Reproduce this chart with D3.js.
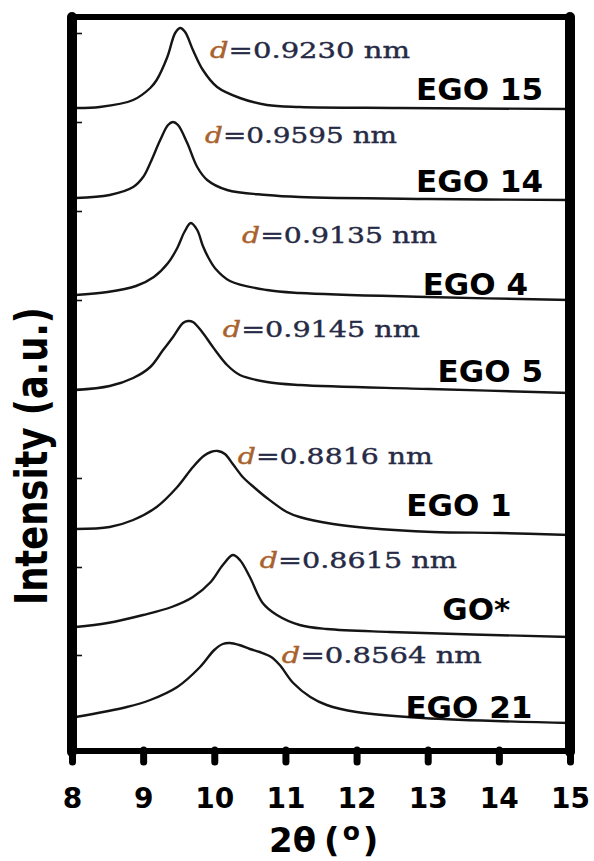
<!DOCTYPE html>
<html>
<head>
<meta charset="utf-8">
<script src="https://cdn.jsdelivr.net/npm/d3@7"></script>
<style>
  body { margin: 0; background: #fff; }
  .curve { fill: none; stroke: #151515; stroke-width: 2.4; stroke-linejoin: round; }
  .sample { font-family: 'DejaVu Sans', Verdana, sans-serif; font-weight: bold; font-size: 31px; fill: #000; }
  .spacing { font-family: 'DejaVu Serif', 'Liberation Serif', serif; font-size: 23px; stroke-width: 0.4; }
  .axis-title { font-family: 'DejaVu Sans', Verdana, sans-serif; font-weight: bold; fill: #000; }
</style>
</head>
<body>
<div class="xrd"></div>
<script>
// 2theta (deg) ticks and stacked intensity traces (a.u., already offset)
var xTicks = [8, 9, 10, 11, 12, 13, 14, 15];
var yTicks = [0.95, 1.83, 2.72, 3.61, 4.50, 5.39, 6.28, 7.17];

var samples = ['EGO 15', 'EGO 14', 'EGO 4', 'EGO 5', 'EGO 1', 'GO*', 'EGO 21'];
var dSpacings = ['0.9230', '0.9595', '0.9135', '0.9145', '0.8816', '0.8615', '0.8564'];

var ego15 = [[8.05,6.42],[8.39,6.43],[8.86,6.50],[9.10,6.62],[9.19,6.70],[9.34,6.93],[9.45,7.17],[9.52,7.22],[9.59,7.18],[9.70,7.00],[9.84,6.80],[10.04,6.63],[10.36,6.52],[10.74,6.45],[11.2,6.43],[12.6,6.42],[15,6.41]];
var ego14 = [[8.05,5.52],[8.53,5.55],[8.86,5.63],[9.0,5.73],[9.10,5.87],[9.24,6.10],[9.35,6.25],[9.42,6.28],[9.49,6.25],[9.62,6.07],[9.76,5.83],[9.90,5.70],[10.18,5.60],[10.74,5.55],[11.2,5.53],[13.0,5.51],[15,5.50]];
var ego4 = [[8.05,4.55],[8.5,4.58],[8.9,4.64],[9.15,4.73],[9.35,4.87],[9.48,5.02],[9.58,5.18],[9.67,5.27],[9.76,5.20],[9.84,5.04],[9.92,4.92],[10.02,4.81],[10.22,4.69],[10.74,4.60],[11.2,4.57],[13.0,4.53],[15,4.50]];
var ego5 = [[8.05,3.60],[8.53,3.64],[8.86,3.72],[9.10,3.83],[9.28,4.00],[9.42,4.13],[9.56,4.27],[9.63,4.29],[9.70,4.28],[9.84,4.17],[9.98,4.03],[10.18,3.85],[10.36,3.75],[10.74,3.68],[11.2,3.65],[13.03,3.61],[15,3.57]];
var ego1 = [[8.05,2.21],[8.53,2.23],[8.86,2.30],[9.19,2.43],[9.48,2.63],[9.70,2.83],[9.85,2.94],[9.95,2.98],[10.05,2.99],[10.15,2.96],[10.26,2.86],[10.40,2.73],[10.57,2.62],[10.74,2.52],[11.02,2.38],[11.2,2.33],[11.67,2.26],[12.15,2.22],[13.07,2.18],[14.02,2.17],[15,2.15]];
var go = [[8.05,1.23],[8.5,1.27],[9.0,1.35],[9.4,1.43],[9.7,1.53],[9.95,1.68],[10.12,1.85],[10.26,1.95],[10.36,1.90],[10.50,1.73],[10.68,1.47],[10.88,1.35],[11.2,1.25],[11.58,1.21],[12.47,1.18],[15,1.13]];
var ego21 = [[8.05,0.33],[8.77,0.43],[9.10,0.50],[9.48,0.63],[9.80,0.83],[10.0,1.00],[10.12,1.06],[10.22,1.07],[10.35,1.05],[10.5,1.01],[10.64,0.98],[10.8,0.93],[10.92,0.85],[11.11,0.67],[11.35,0.53],[11.58,0.45],[12.0,0.38],[12.93,0.32],[15,0.27]];

var traces = [ego15, ego14, ego4, ego5, ego1, go, ego21];

var xrd = {

  element: '.xrd',

  width: 594,
  height: 861,

  margin: { top: 17, right: 24, bottom: 111, left: 72 },

  // where the annotations sit, in data units (2theta, intensity)
  dLabelAt: [[9.94,6.92],[9.87,6.07],[10.39,5.07],[10.12,4.13],[10.33,2.86],[10.64,1.82],[10.95,0.87]],
  dLabelWidth: [200, 192, 195, 197, 195, 197, 200],
  nameAt: [[14.62,6.50],[14.62,5.58],[14.41,4.55],[14.62,3.68],[14.18,2.34],[14.16,1.30],[14.47,0.32]],

  draw: function(){
    var self = this,
        w = this.width - this.margin.left - this.margin.right,
        h = this.height - this.margin.top - this.margin.bottom;

    var x = d3.scaleLinear().domain([8, 15]).range([0, w]),
        y = d3.scaleLinear().domain([0, 7.33]).range([h, 0]);

    var svg = d3.select(this.element).append('svg')
          .attr('width', this.width)
          .attr('height', this.height)
        .append('g')
          .attr('transform', 'translate(' + this.margin.left + ',' + this.margin.top + ')');

    var line = d3.line()
        .x(function(d){ return x(d[0]); })
        .y(function(d){ return y(d[1]); })
        .curve(d3.curveCatmullRom.alpha(0.5));

    svg.selectAll('.curve')
        .data(traces)
      .enter().append('path')
        .attr('class', 'curve')
        .attr('d', line);

    // d-spacing notes
    var notes = svg.selectAll('.spacing')
        .data(dSpacings)
      .enter().append('text')
        .attr('class', 'spacing')
        .attr('x', function(d, i){ return x(self.dLabelAt[i][0]); })
        .attr('y', function(d, i){ return y(self.dLabelAt[i][1]); })
        .attr('textLength', function(d, i){ return self.dLabelWidth[i]; })
        .attr('lengthAdjust', 'spacingAndGlyphs');
    notes.append('tspan')
        .attr('font-style', 'italic')
        .attr('fill', '#a8622c')
        .attr('stroke', '#a8622c')
        .text('d');
    notes.append('tspan')
        .attr('fill', '#262a44')
        .attr('stroke', '#262a44')
        .text(function(d){ return '=' + d + ' nm'; });

    svg.selectAll('.sample')
        .data(samples)
      .enter().append('text')
        .attr('class', 'sample')
        .attr('text-anchor', 'end')
        .attr('x', function(d, i){ return x(self.nameAt[i][0]); })
        .attr('y', function(d, i){ return y(self.nameAt[i][1]); })
        .text(function(d){ return d; });

    // axes
    var xAxis = svg.append('g')
        .attr('transform', 'translate(0,' + h + ')')
        .call(d3.axisBottom(x).tickValues(xTicks).tickSize(12).tickPadding(26).tickFormat(d3.format('d')));
    xAxis.select('.domain').remove();
    xAxis.selectAll('.tick line')
        .attr('stroke', '#000')
        .attr('stroke-width', 7)
        .attr('stroke-linecap', 'round');
    xAxis.selectAll('.tick text')
        .attr('fill', '#000')
        .style('font-family', "'DejaVu Sans', Verdana, sans-serif")
        .style('font-weight', 'bold')
        .style('font-size', '28px');

    var yAxis = svg.append('g')
        .call(d3.axisLeft(y).tickValues(yTicks).tickSize(-10).tickFormat(''));
    yAxis.select('.domain').remove();
    yAxis.selectAll('.tick line').attr('stroke', '#111').attr('stroke-width', 1.6);

    // frame: heavy left/right, lighter top/bottom
    var frame = svg.append('g').attr('stroke', '#000').attr('stroke-linecap', 'round');
    frame.append('line').attr('x1', 0).attr('x2', w).attr('y1', y(7.33)).attr('y2', y(7.33)).attr('stroke-width', 6);
    frame.append('line').attr('x1', 0).attr('x2', w).attr('y1', h + 1).attr('y2', h + 1).attr('stroke-width', 6);
    frame.append('line').attr('x1', 0).attr('x2', 0).attr('y1', 0).attr('y2', h + 2).attr('stroke-width', 10);
    frame.append('line').attr('x1', w).attr('x2', w).attr('y1', 0).attr('y2', h + 2).attr('stroke-width', 10);

    // titles
    var xt = svg.append('text')
        .attr('class', 'axis-title')
        .attr('x', x(10.77))
        .attr('y', h + 102)
        .style('font-size', '34px');
    xt.append('tspan').text('2\u03b8');
    xt.append('tspan').attr('dx', 8).text('(');
    xt.append('tspan').attr('dx', 3).attr('dy', -12).style('font-size', '25px').text('o');
    xt.append('tspan').attr('dx', 3).attr('dy', 12).text(')');

    svg.append('text')
        .attr('class', 'axis-title')
        .attr('transform', 'translate(' + (-25) + ',' + y(2.94) + ') rotate(-90)')
        .attr('text-anchor', 'middle')
        .attr('textLength', 298)
        .attr('lengthAdjust', 'spacingAndGlyphs')
        .style('font-size', '44px')
        .text('Intensity (a.u.)');

    return svg;
  }
};

xrd.draw();
</script>
</body>
</html>
